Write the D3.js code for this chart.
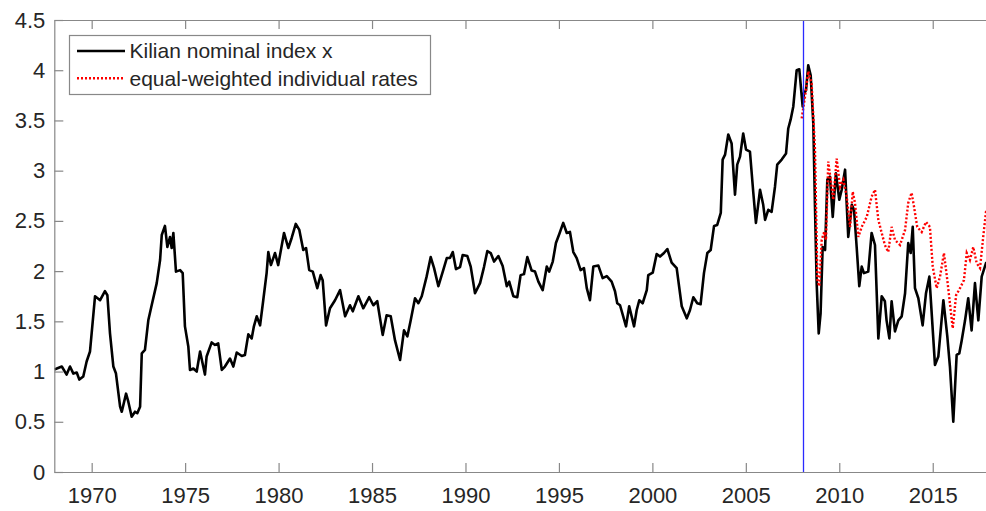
<!DOCTYPE html>
<html>
<head>
<meta charset="utf-8">
<script src="https://cdn.jsdelivr.net/npm/d3@7"></script>
<style>
  body { margin: 0; background: #fff; }
  svg { display: block; font-family: Helvetica, Arial, "Liberation Sans", sans-serif; }
</style>
</head>
<body>
<svg width="986" height="511"></svg>
<script>
// Kilian nominal index x (black)
var kilianYears = [1968.0,1968.4,1968.66,1968.84,1969.02,1969.2,1969.34,1969.55,1969.73,1969.91,
  1970.18,1970.45,1970.71,1970.84,1970.98,1971.16,1971.3,1971.52,1971.61,1971.84,1971.96,
  1972.14,1972.32,1972.44,1972.59,1972.68,1972.85,1973.03,1973.21,1973.48,1973.66,1973.75,
  1973.92,1974.05,1974.19,1974.28,1974.37,1974.51,1974.73,1974.87,1974.99,1975.17,1975.26,
  1975.44,1975.62,1975.8,1976.06,1976.15,1976.42,1976.6,1976.77,1976.96,1977.13,1977.4,
  1977.58,1977.76,1978.03,1978.2,1978.38,1978.56,1978.68,1978.83,1979.01,1979.18,1979.36,
  1979.45,1979.59,1979.81,1979.98,1980.29,1980.52,1980.7,1980.92,1981.11,1981.32,1981.47,
  1981.64,1981.83,1982.07,1982.25,1982.36,1982.54,1982.75,1983.02,1983.29,1983.56,1983.82,
  1983.97,1984.27,1984.53,1984.85,1985.07,1985.28,1985.57,1985.78,1986.0,1986.23,1986.5,
  1986.71,1986.89,1987.07,1987.3,1987.48,1987.66,1987.92,1988.14,1988.32,1988.55,1988.81,
  1989.0,1989.17,1989.32,1989.49,1989.71,1989.85,1990.1,1990.28,1990.51,1990.78,1990.99,
  1991.17,1991.35,1991.53,1991.76,1991.99,1992.21,1992.34,1992.56,1992.77,1992.95,1993.13,
  1993.31,1993.54,1993.72,1993.9,1994.13,1994.35,1994.48,1994.67,1994.84,1995.02,1995.23,
  1995.42,1995.59,1995.77,1995.95,1996.16,1996.34,1996.49,1996.66,1996.84,1997.11,1997.34,
  1997.56,1997.82,1998.0,1998.12,1998.27,1998.59,1998.76,1999.02,1999.16,1999.3,1999.48,
  1999.7,1999.78,2000.02,2000.23,2000.41,2000.62,2000.8,2001.03,2001.3,2001.57,2001.84,
  2002.01,2002.19,2002.4,2002.58,2002.76,2002.94,2003.12,2003.3,2003.47,2003.66,2003.76,
  2003.89,2004.06,2004.24,2004.42,2004.54,2004.69,2004.86,2005.01,2005.22,2005.4,2005.54,
  2005.76,2005.93,2006.03,2006.2,2006.38,2006.56,2006.68,2006.92,2007.15,2007.27,2007.4,
  2007.54,2007.72,2007.86,2008.04,2008.11,2008.22,2008.34,2008.47,2008.61,2008.7,2008.79,
  2008.9,2009.0,2009.11,2009.24,2009.36,2009.5,2009.65,2009.82,2010.0,2010.13,2010.31,
  2010.48,2010.67,2010.79,2010.93,2011.07,2011.2,2011.32,2011.55,2011.73,2011.91,2012.09,
  2012.27,2012.44,2012.53,2012.68,2012.8,2012.98,2013.16,2013.34,2013.52,2013.69,2013.82,
  2013.93,2014.05,2014.23,2014.46,2014.64,2014.82,2015.12,2015.3,2015.57,2015.78,2015.92,
  2016.1,2016.28,2016.42,2016.55,2016.73,2016.9,2017.08,2017.26,2017.44,2017.62,2017.85,2018.0];
var kilianValues = [1.02,1.05,0.97,1.05,0.98,0.99,0.92,0.95,1.10,1.20,
  1.75,1.71,1.80,1.76,1.38,1.05,0.98,0.65,0.60,0.78,0.70,
  0.55,0.60,0.585,0.65,1.18,1.215,1.51,1.66,1.88,2.11,2.36,
  2.45,2.24,2.34,2.23,2.38,1.995,2.01,1.98,1.45,1.25,1.016,
  1.03,1.00,1.20,0.97,1.15,1.29,1.265,1.28,1.016,1.05,1.13,
  1.05,1.19,1.155,1.165,1.37,1.33,1.45,1.55,1.46,1.71,1.98,
  2.19,2.06,2.18,2.06,2.38,2.23,2.33,2.47,2.41,2.21,2.23,
  2.01,1.995,1.83,1.96,1.91,1.46,1.63,1.71,1.81,1.55,1.66,
  1.60,1.75,1.63,1.74,1.66,1.70,1.365,1.56,1.55,1.31,1.115,
  1.41,1.35,1.51,1.73,1.68,1.75,1.945,2.14,2.03,1.85,2.01,
  2.13,2.13,2.19,2.02,2.04,2.16,2.15,2.045,1.78,1.88,2.04,
  2.20,2.18,2.095,2.15,2.05,1.85,1.895,1.75,1.74,1.96,1.97,
  2.14,2.005,1.995,1.895,1.81,2.045,1.995,2.095,2.28,2.37,2.48,
  2.38,2.39,2.19,2.13,2.01,2.03,1.83,1.71,2.045,2.055,1.93,
  1.95,1.895,1.80,1.68,1.66,1.45,1.65,1.45,1.61,1.71,1.68,
  1.81,1.96,1.985,2.17,2.145,2.18,2.22,2.085,2.03,1.65,1.53,
  1.61,1.74,1.68,1.67,1.98,2.18,2.21,2.45,2.46,2.58,3.11,
  3.16,3.36,3.27,2.76,3.06,3.14,3.37,3.21,3.19,2.78,2.48,
  2.81,2.66,2.51,2.61,2.59,2.84,3.06,3.11,3.17,3.42,3.51,
  3.64,4.00,4.01,3.64,3.77,3.80,4.05,3.95,3.47,2.64,1.88,
  1.38,1.58,2.24,2.21,2.91,2.94,2.54,2.975,2.71,2.81,3.01,
  2.34,2.66,2.61,2.24,1.85,2.045,1.98,1.995,2.38,2.26,1.33,
  1.75,1.70,1.51,1.33,1.70,1.40,1.51,1.55,1.78,2.28,2.18,
  2.44,1.83,1.73,1.46,1.78,1.945,1.066,1.15,1.71,1.35,1.05,
  0.50,1.165,1.18,1.31,1.51,1.73,1.41,1.88,1.51,1.945,2.08,2.10];

// equal-weighted individual rates (red dotted)
var equalYears = [2007.99,2008.17,2008.34,2008.52,2008.7,2008.83,2008.93,2009.06,2009.19,2009.29,
  2009.41,2009.54,2009.68,2009.86,2010.04,2010.22,2010.4,2010.58,2010.72,2010.84,2011.02,
  2011.2,2011.47,2011.73,2011.91,2012.09,2012.27,2012.44,2012.62,2012.8,2012.98,2013.25,
  2013.52,2013.69,2013.87,2014.0,2014.17,2014.41,2014.64,2014.85,2015.0,2015.21,2015.39,
  2015.6,2015.78,2016.07,2016.25,2016.46,2016.67,2016.82,2016.99,2017.17,2017.35,2017.53,
  2017.7,2017.85,2018.0];
var equalValues = [3.52,3.74,3.99,3.87,3.21,1.91,1.85,2.31,2.39,2.31,
  3.09,2.91,2.71,3.12,2.84,2.91,2.74,2.44,2.79,2.68,2.34,
  2.44,2.54,2.74,2.81,2.51,2.38,2.26,2.19,2.44,2.31,2.26,
  2.41,2.68,2.78,2.64,2.44,2.39,2.49,2.44,2.045,1.83,1.945,
  2.18,1.91,1.43,1.76,1.83,1.91,2.18,2.11,2.24,2.08,2.03,
  2.34,2.59,2.62];

var breakYear = 2008.08;
var xTicks = [1970, 1975, 1980, 1985, 1990, 1995, 2000, 2005, 2010, 2015];
var yTicks = [0, 0.5, 1, 1.5, 2, 2.5, 3, 3.5, 4, 4.5];
var legendLabels = ["Kilian nominal index x", "equal-weighted individual rates"];

(function() {
var svg = d3.select("svg");
var pLeft = 54.3, pRight = 988.8, pTop = 20, pBottom = 472;
var axisColor = "#888888", textColor = "#262626";

var x = d3.scaleLinear().domain([1968, 2018]).range([pLeft, pRight]);
var y = d3.scaleLinear().domain([0, 4.5]).range([pBottom, pTop]);

var kilian = kilianYears.map(function(d, i) { return [d, kilianValues[i]]; });
var equal = equalYears.map(function(d, i) { return [d, equalValues[i]]; });

var line = d3.line()
    .x(function(d) { return x(d[0]); })
    .y(function(d) { return y(d[1]); });

svg.append("defs").append("clipPath").attr("id", "plot")
  .append("rect").attr("x", pLeft).attr("y", pTop)
  .attr("width", pRight - pLeft).attr("height", pBottom - pTop);

var plot = svg.append("g").attr("clip-path", "url(#plot)");

plot.append("path")
    .datum(kilian)
    .attr("fill", "none")
    .attr("stroke", "#000")
    .attr("stroke-width", 2.6)
    .attr("stroke-linejoin", "round")
    .attr("d", line);

plot.append("path")
    .datum(equal)
    .attr("fill", "none")
    .attr("stroke", "#ff0000")
    .attr("stroke-width", 2.4)
    .attr("stroke-dasharray", "2,2")
    .attr("d", line);

// blue marker line at the break
var bx = Math.floor(x(breakYear)) + 0.5;
plot.append("line")
    .attr("x1", bx).attr("x2", bx)
    .attr("y1", pTop).attr("y2", pBottom)
    .attr("stroke", "#2a2aff")
    .attr("stroke-width", 1.3);

// axes, ticks pointing inward like matlab
var xAxis = svg.append("g")
    .attr("transform", "translate(0," + pBottom + ")")
    .call(d3.axisBottom(x).tickValues(xTicks).tickFormat(d3.format("d"))
      .tickSizeInner(-9).tickSizeOuter(0).tickPadding(15));

var xTop = svg.append("g")
    .attr("transform", "translate(0," + pTop + ")")
    .call(d3.axisTop(x).tickValues(xTicks).tickFormat("")
      .tickSizeInner(-9).tickSizeOuter(0));

var yAxis = svg.append("g")
    .attr("transform", "translate(" + pLeft + ",0)")
    .call(d3.axisLeft(y).tickValues(yTicks).tickFormat(d3.format("~g"))
      .tickSizeInner(-9).tickSizeOuter(0).tickPadding(9));

[xAxis, xTop, yAxis].forEach(function(g) {
  g.select(".domain").attr("stroke", axisColor).attr("stroke-width", 1.2);
  g.selectAll(".tick line").attr("stroke", axisColor).attr("stroke-width", 1.2);
  g.selectAll(".tick text").attr("fill", textColor).style("font-size", "22px");
});

// legend
var legend = svg.append("g");
legend.append("rect")
    .attr("x", 69.5).attr("y", 35.5)
    .attr("width", 361).attr("height", 59)
    .attr("fill", "#fff")
    .attr("stroke", axisColor)
    .attr("stroke-width", 1.2);

var legendStyles = [
  { color: "#000", dash: null, width: 2.6 },
  { color: "#ff0000", dash: "2,2", width: 2.4 }
];

legendLabels.forEach(function(label, i) {
  var cy = 51 + i * 27.3;
  legend.append("line")
      .attr("x1", 77).attr("x2", 125)
      .attr("y1", cy).attr("y2", cy)
      .attr("stroke", legendStyles[i].color)
      .attr("stroke-width", legendStyles[i].width)
      .attr("stroke-dasharray", legendStyles[i].dash);
  legend.append("text")
      .attr("x", 129.5).attr("y", cy)
      .attr("dy", "0.35em")
      .attr("fill", textColor)
      .style("font-size", "21px")
      .text(label);
});
})();
</script>
</body>
</html>
